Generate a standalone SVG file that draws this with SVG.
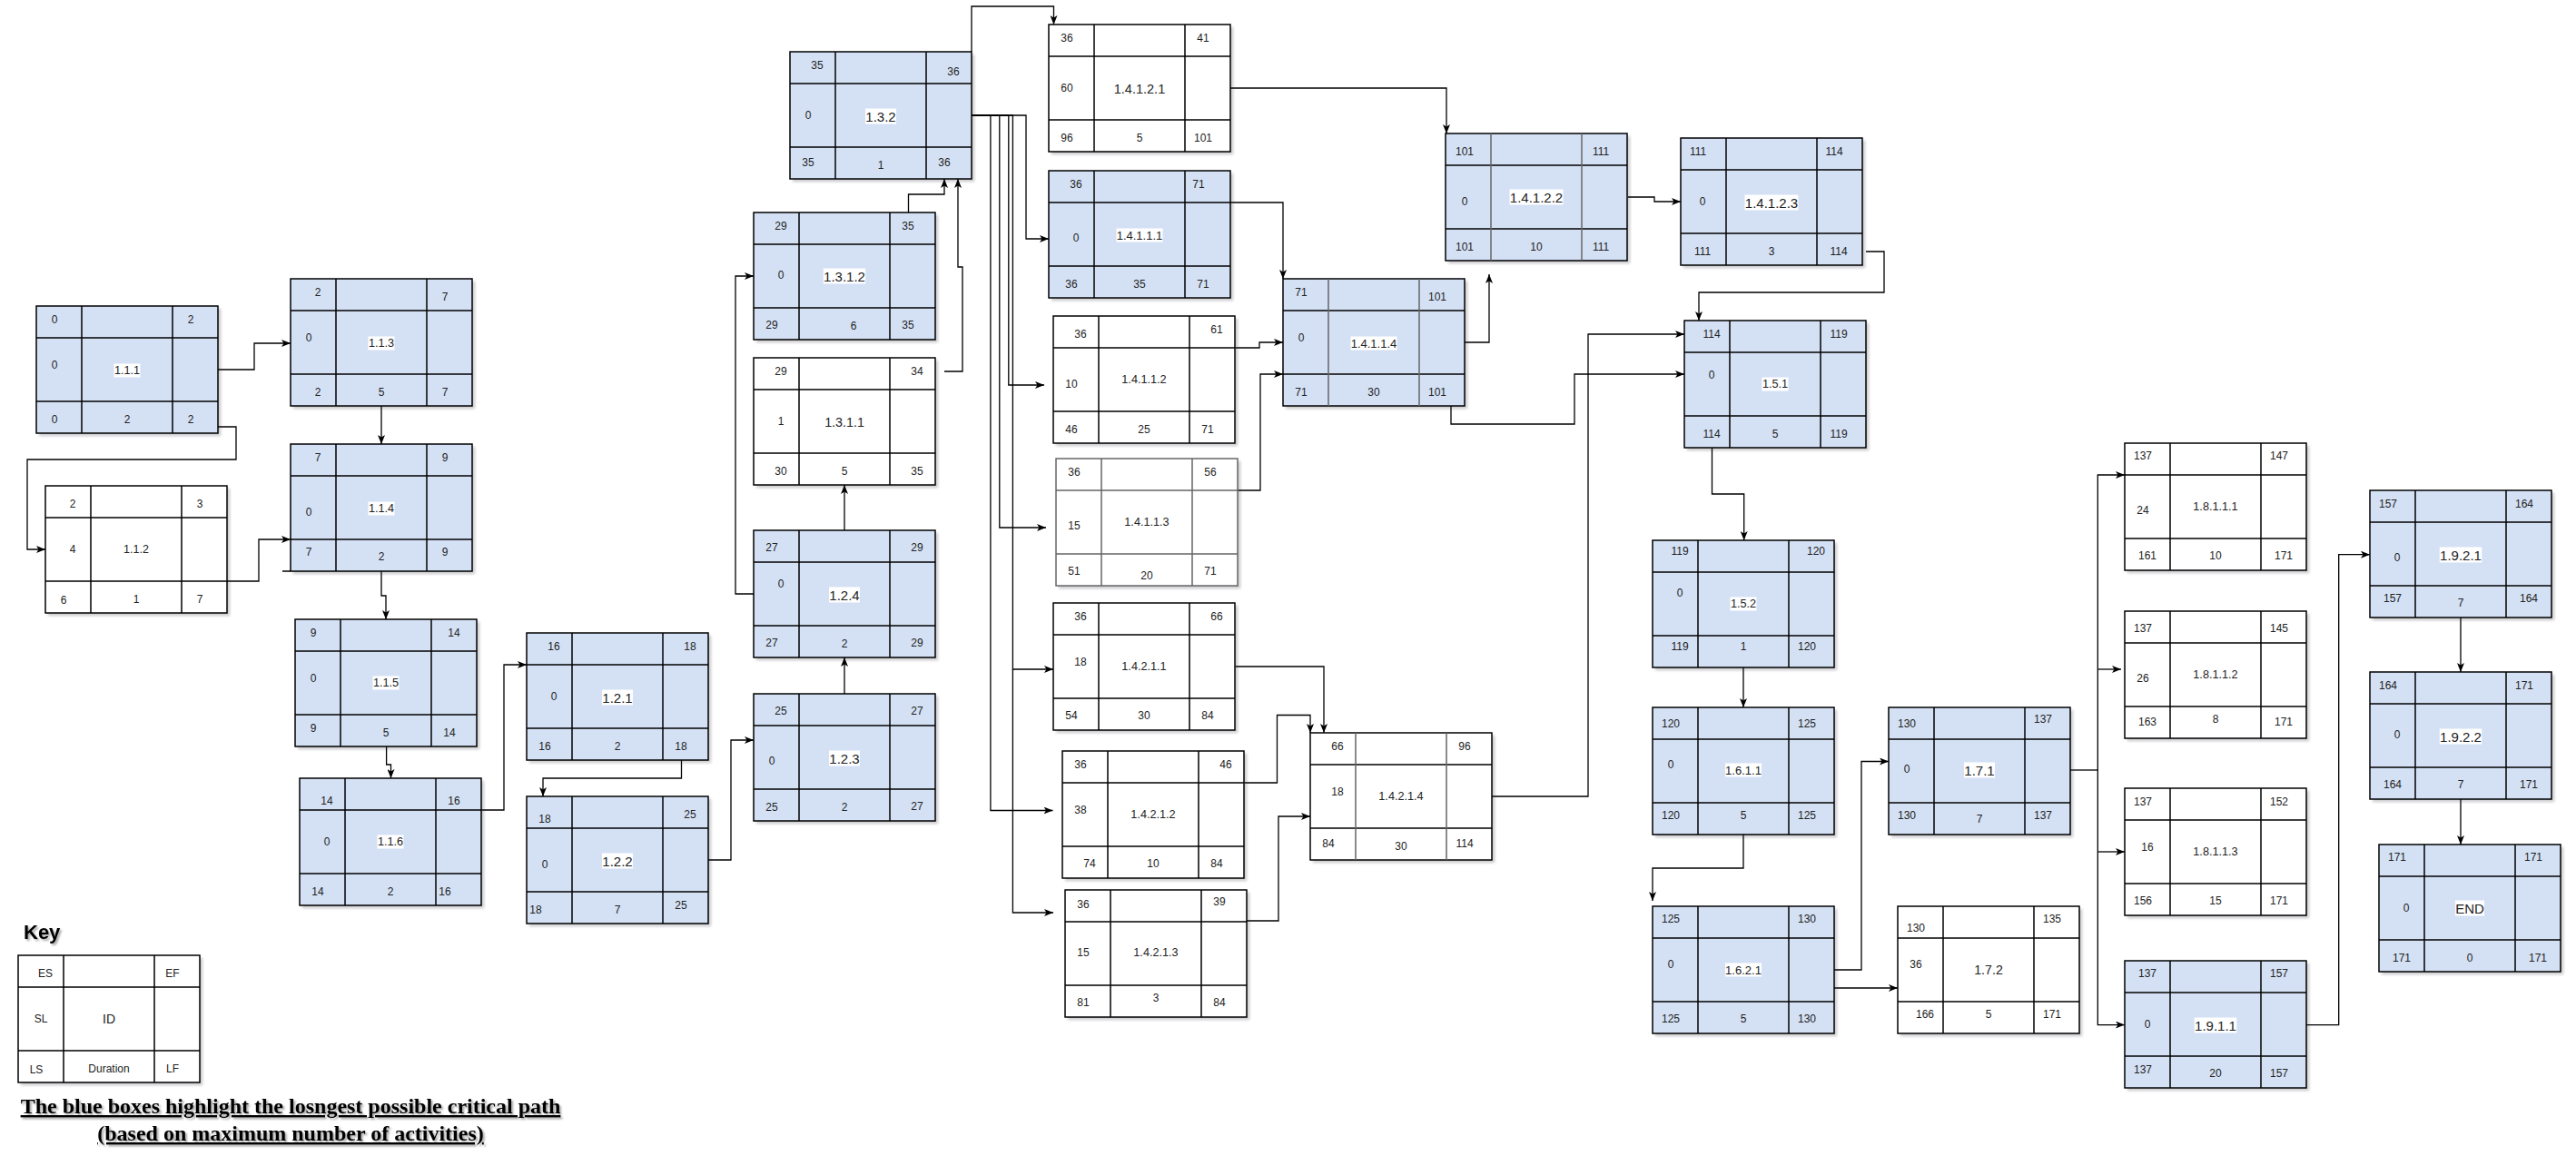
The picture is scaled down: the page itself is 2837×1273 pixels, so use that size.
<svg xmlns="http://www.w3.org/2000/svg" xmlns:xlink="http://www.w3.org/1999/xlink" width="2837" height="1273" viewBox="0 0 2837 1273">
<style>
.n text{font-family:"Liberation Sans",Arial,sans-serif;font-size:12px;fill:#222;text-anchor:middle;dominant-baseline:central}
.n text.i{font-size:15px}
.bf{fill:#D4E1F5;filter:url(#sh)}
.wf{fill:#fff;filter:url(#sh)}
.lb{fill:#fff}
.c path{fill:none;stroke:#000;stroke-width:1.3;marker-end:url(#a)}
.c path.t{marker-end:none}
.cap{font-family:"Liberation Serif","Times New Roman",serif;font-weight:bold;font-size:24px;text-decoration:underline;text-anchor:middle;fill:#000;filter:url(#tsh)}
</style>
<defs>
<filter id="sh" x="-5%" y="-5%" width="115%" height="120%"><feDropShadow dx="3" dy="3" stdDeviation="1.5" flood-color="#223" flood-opacity="0.25"/></filter>
<filter id="tsh" x="-5%" y="-30%" width="110%" height="170%"><feDropShadow dx="2" dy="2" stdDeviation="1.2" flood-color="#000" flood-opacity="0.35"/></filter>
<g id="gr"><rect width="200" height="140" fill="none" stroke="#000" stroke-width="1.5"/><path d="M50,0V140M150,0V140M0,35H200M0,105H200" fill="none" stroke="#000" stroke-width="1.5"/></g>
<g id="grg"><rect width="200" height="140" fill="none" stroke="#666" stroke-width="1.5"/><path d="M50,0V140M150,0V140M0,35H200M0,105H200" fill="none" stroke="#666" stroke-width="1.5"/></g>
<g id="grm"><rect width="200" height="140" fill="none" stroke="#000" stroke-width="1.5"/><path d="M0,35H200M0,105H200" fill="none" stroke="#000" stroke-width="1.5"/><path d="M50,0V140M150,0V140" fill="none" stroke="#666" stroke-width="1.5"/></g>
<marker id="a" viewBox="0 0 10 8" refX="10" refY="4" markerWidth="10" markerHeight="8" markerUnits="userSpaceOnUse" orient="auto"><path d="M0,0L10,4L0,8L2.5,4Z" fill="#000"/></marker>
</defs>
<rect width="2837" height="1273" fill="#fff"/>

<g id="connectors" class="c">
<path d="M240,407H280V378H320"/>
<path d="M240,470H260V506H30V605H50"/>
<path d="M420,447V489"/>
<path d="M250,640H285V594H320"/>
<path d="M420,629V656H425V682"/>
<path d="M425.6,822V842H430.5V857"/>
<path d="M530,892H555V732H580"/>
<path d="M750.5,837V857H598V877"/>
<path d="M780,947H805V815H830"/>
<path d="M930,764V724"/>
<path d="M930,584V534"/>
<path d="M830,654H810V304H830"/>
<path d="M1040,409H1060V294H1055V197"/>
<path d="M1000.5,234V214H1040V197"/>
<path d="M1070,57V7H1160.5V27"/>
<path d="M1070,127H1130V263H1155"/>
<path d="M1070,127H1110.8V424H1150"/>
<path d="M1070,127H1100.8V581H1152"/>
<path d="M1070,127H1115.4V737H1160"/>
<path d="M1115.4,737V1005H1160"/>
<path d="M1070,127H1090.9V892.5H1159.5"/>
<path d="M1355,97H1593V147"/>
<path d="M1355,223H1413V307"/>
<path d="M1360.6,383H1387V377H1413"/>
<path d="M1363,540H1388V412H1413"/>
<path d="M1613,377H1640V302"/>
<path d="M1598,447V467H1734V412H1855"/>
<path d="M1643,877H1749V368H1855"/>
<path d="M2055,277H2075V322H1871V353"/>
<path d="M1793,217H1822V222H1851"/>
<path d="M1360.6,734H1458V807"/>
<path d="M1370.6,862H1406.5V787.5H1443V807"/>
<path d="M1373,1014H1408V899H1443"/>
<path d="M1885.5,493V544H1920.7V595"/>
<path d="M1920,735V779"/>
<path d="M1920,919V956H1820V992"/>
<path d="M2020,1068H2050V838.5H2080"/>
<path d="M2020,1088H2090"/>
<path class="t" d="M2280,848H2310.3"/>
<path d="M2310.3,848V523H2340"/>
<path d="M2310.3,737H2336"/>
<path d="M2310.3,938H2340"/>
<path d="M2310.3,848V1128.6H2340"/>
<path d="M2540,1128.6H2575.7V610.7H2610"/>
<path d="M2710,680V740"/>
<path d="M2710,880V930"/>
</g>

<g id="n111" class="n" transform="translate(40,337)"><rect class="bf" width="200" height="140"/><use href="#gr"/><rect class="lb" x="85.5" y="63.5" width="29" height="15"/>
<text x="20" y="15">0</text><text x="170" y="15">2</text><text x="20" y="65">0</text><text class="i" x="100" y="71" style="font-size:12.7px">1.1.1</text><text x="20" y="125">0</text><text x="100" y="125">2</text><text x="170" y="125">2</text></g>

<g id="n113" class="n" transform="translate(320,307)"><rect class="bf" width="200" height="140"/><use href="#gr"/><rect class="lb" x="85.5" y="63.5" width="29" height="15"/>
<text x="30" y="15">2</text><text x="170" y="20">7</text><text x="20" y="65">0</text><text class="i" x="100" y="71" style="font-size:12.7px">1.1.3</text><text x="30" y="125">2</text><text x="100" y="125">5</text><text x="170" y="125">7</text></g>

<g id="n112" class="n" transform="translate(50,535)"><rect class="wf" width="200" height="140"/><use href="#gr"/>
<text x="30" y="20">2</text><text x="170" y="20">3</text><text x="30" y="70">4</text><text class="i" x="100" y="70" style="font-size:12.5px">1.1.2</text><text x="20" y="126">6</text><text x="100" y="125">1</text><text x="170" y="125">7</text></g>

<g id="n114" class="n" transform="translate(320,489)"><rect class="bf" width="200" height="140"/><use href="#gr"/><path d="M-9,140H0" stroke="#000" stroke-width="1.5"/><rect class="lb" x="85.5" y="63.5" width="29" height="15"/>
<text x="30" y="15">7</text><text x="170" y="15">9</text><text x="20" y="75">0</text><text class="i" x="100" y="71" style="font-size:12.7px">1.1.4</text><text x="20" y="119">7</text><text x="100" y="124">2</text><text x="170" y="119">9</text></g>

<g id="n115" class="n" transform="translate(325,682)"><rect class="bf" width="200" height="140"/><use href="#gr"/><rect class="lb" x="85.5" y="62.5" width="29" height="15"/>
<text x="20" y="15">9</text><text x="175" y="15">14</text><text x="20" y="65">0</text><text class="i" x="100" y="70" style="font-size:12.7px">1.1.5</text><text x="20" y="120">9</text><text x="100" y="125">5</text><text x="170" y="125">14</text></g>

<g id="n116" class="n" transform="translate(330,857)"><rect class="bf" width="200" height="140"/><use href="#gr"/><rect class="lb" x="85.5" y="62.5" width="29" height="15"/>
<text x="30" y="25">14</text><text x="170" y="25">16</text><text x="30" y="70">0</text><text class="i" x="100" y="70" style="font-size:12.7px">1.1.6</text><text x="20" y="125">14</text><text x="100" y="125">2</text><text x="160" y="125">16</text></g>

<g id="n121" class="n" transform="translate(580,697)"><rect class="bf" width="200" height="140"/><use href="#gr"/><rect class="lb" x="83" y="62.5" width="34" height="17"/>
<text x="30" y="15">16</text><text x="180" y="15">18</text><text x="30" y="70">0</text><text class="i" x="100" y="71">1.2.1</text><text x="20" y="125">16</text><text x="100" y="125">2</text><text x="170" y="125">18</text></g>

<g id="n122" class="n" transform="translate(580,877)"><rect class="bf" width="200" height="140"/><use href="#gr"/><rect class="lb" x="83" y="62.5" width="34" height="17"/>
<text x="20" y="25">18</text><text x="180" y="20">25</text><text x="20" y="75">0</text><text class="i" x="100" y="71">1.2.2</text><text x="10" y="125">18</text><text x="100" y="125">7</text><text x="170" y="120">25</text></g>

<g id="n123" class="n" transform="translate(830,764)"><rect class="bf" width="200" height="140"/><use href="#gr"/><rect class="lb" x="83" y="62.5" width="34" height="17"/>
<text x="30" y="19">25</text><text x="180" y="19">27</text><text x="20" y="74">0</text><text class="i" x="100" y="71">1.2.3</text><text x="20" y="125">25</text><text x="100" y="125">2</text><text x="180" y="124">27</text></g>

<g id="n124" class="n" transform="translate(830,584)"><rect class="bf" width="200" height="140"/><use href="#gr"/><rect class="lb" x="83" y="62.5" width="34" height="17"/>
<text x="20" y="19">27</text><text x="180" y="19">29</text><text x="30" y="59">0</text><text class="i" x="100" y="71">1.2.4</text><text x="20" y="124">27</text><text x="100" y="125">2</text><text x="180" y="124">29</text></g>

<g id="n1311" class="n" transform="translate(830,394)"><rect class="wf" width="200" height="140"/><use href="#gr"/>
<text x="30" y="15">29</text><text x="180" y="15">34</text><text x="30" y="70">1</text><text class="i" x="100" y="71" style="font-size:14.3px">1.3.1.1</text><text x="30" y="125">30</text><text x="100" y="125">5</text><text x="180" y="125">35</text></g>

<g id="n1312" class="n" transform="translate(830,234)"><rect class="bf" width="200" height="140"/><use href="#gr"/><rect class="lb" x="76.75" y="61.5" width="46.5" height="17"/>
<text x="30" y="15">29</text><text x="170" y="15">35</text><text x="30" y="69">0</text><text class="i" x="100" y="70">1.3.1.2</text><text x="20" y="124">29</text><text x="110" y="125">6</text><text x="170" y="124">35</text></g>

<g id="n132" class="n" transform="translate(870,57)"><rect class="bf" width="200" height="140"/><use href="#gr"/><rect class="lb" x="83" y="62.5" width="34" height="17"/>
<text x="30" y="15">35</text><text x="180" y="22">36</text><text x="20" y="70">0</text><text class="i" x="100" y="71">1.3.2</text><text x="20" y="122">35</text><text x="100" y="125">1</text><text x="170" y="122">36</text></g>

<g id="n14121" class="n" transform="translate(1155,27)"><rect class="wf" width="200" height="140"/><use href="#gr"/>
<text x="20" y="15">36</text><text x="170" y="15">41</text><text x="20" y="70">60</text><text class="i" x="100" y="71" style="font-size:14.5px">1.4.1.2.1</text><text x="20" y="125">96</text><text x="100" y="125">5</text><text x="170" y="125">101</text></g>

<g id="n14111" class="n" transform="translate(1155,188)"><rect class="bf" width="200" height="140"/><use href="#gr"/><rect class="lb" x="74.5" y="63.5" width="51" height="15"/>
<text x="30" y="15">36</text><text x="165" y="15">71</text><text x="30" y="74">0</text><text class="i" x="100" y="71" style="font-size:13px">1.4.1.1.1</text><text x="25" y="125">36</text><text x="100" y="125">35</text><text x="170" y="125">71</text></g>

<g id="n14112" class="n" transform="translate(1160,348)"><rect class="wf" width="200" height="140"/><use href="#gr"/>
<text x="30" y="20">36</text><text x="180" y="15">61</text><text x="20" y="75">10</text><text class="i" x="100" y="70" style="font-size:12.7px">1.4.1.1.2</text><text x="20" y="125">46</text><text x="100" y="125">25</text><text x="170" y="125">71</text></g>

<g id="n14113" class="n" transform="translate(1163,505)"><rect class="wf" width="200" height="140"/><use href="#grg"/>
<text x="20" y="15">36</text><text x="170" y="15">56</text><text x="20" y="74">15</text><text class="i" x="100" y="70" style="font-size:12.7px">1.4.1.1.3</text><text x="20" y="124">51</text><text x="100" y="129">20</text><text x="170" y="124">71</text></g>

<g id="n14211" class="n" transform="translate(1160,664)"><rect class="wf" width="200" height="140"/><use href="#gr"/>
<text x="30" y="15">36</text><text x="180" y="15">66</text><text x="30" y="65">18</text><text class="i" x="100" y="70" style="font-size:12.7px">1.4.2.1.1</text><text x="20" y="124">54</text><text x="100" y="124">30</text><text x="170" y="124">84</text></g>

<g id="n14212" class="n" transform="translate(1170,827)"><rect class="wf" width="200" height="140"/><use href="#gr"/>
<text x="20" y="15">36</text><text x="180" y="15">46</text><text x="20" y="65">38</text><text class="i" x="100" y="70" style="font-size:12.7px">1.4.2.1.2</text><text x="30" y="124">74</text><text x="100" y="124">10</text><text x="170" y="124">84</text></g>

<g id="n14213" class="n" transform="translate(1173,980)"><rect class="wf" width="200" height="140"/><use href="#gr"/>
<text x="20" y="16">36</text><text x="170" y="13">39</text><text x="20" y="69">15</text><text class="i" x="100" y="69" style="font-size:12.7px">1.4.2.1.3</text><text x="20" y="124">81</text><text x="100" y="119">3</text><text x="170" y="124">84</text></g>

<g id="n14214" class="n" transform="translate(1443,807)"><rect class="wf" width="200" height="140"/><use href="#grm"/>
<text x="30" y="15">66</text><text x="170" y="15">96</text><text x="30" y="65">18</text><text class="i" x="100" y="70" style="font-size:12.7px">1.4.2.1.4</text><text x="20" y="122">84</text><text x="100" y="125">30</text><text x="170" y="122">114</text></g>

<g id="n14114" class="n" transform="translate(1413,307)"><rect class="bf" width="200" height="140"/><use href="#grm"/><rect class="lb" x="74.5" y="63.5" width="51" height="15"/>
<text x="20" y="15">71</text><text x="170" y="20">101</text><text x="20" y="65">0</text><text class="i" x="100" y="71" style="font-size:13px">1.4.1.1.4</text><text x="20" y="125">71</text><text x="100" y="125">30</text><text x="170" y="125">101</text></g>

<g id="n14122" class="n" transform="translate(1592,147)"><rect class="bf" width="200" height="140"/><use href="#grm"/><rect class="lb" x="70.5" y="61.5" width="59" height="17"/>
<text x="21" y="20">101</text><text x="171" y="20">111</text><text x="21" y="75">0</text><text class="i" x="100" y="70">1.4.1.2.2</text><text x="21" y="125">101</text><text x="100" y="125">10</text><text x="171" y="125">111</text></g>

<g id="n14123" class="n" transform="translate(1851,152)"><rect class="bf" width="200" height="140"/><use href="#gr"/><rect class="lb" x="70.5" y="62.5" width="59" height="17"/>
<text x="19" y="15">111</text><text x="169" y="15">114</text><text x="24" y="70">0</text><text class="i" x="100" y="71">1.4.1.2.3</text><text x="24" y="125">111</text><text x="100" y="125">3</text><text x="174" y="125">114</text></g>

<g id="n151" class="n" transform="translate(1855,353)"><rect class="bf" width="200" height="140"/><use href="#gr"/><rect class="lb" x="85.5" y="62.5" width="29" height="15"/>
<text x="30" y="15">114</text><text x="170" y="15">119</text><text x="30" y="60">0</text><text class="i" x="100" y="70" style="font-size:12.7px">1.5.1</text><text x="30" y="125">114</text><text x="100" y="125">5</text><text x="170" y="125">119</text></g>

<g id="n152" class="n" transform="translate(1820,595)"><rect class="bf" width="200" height="140"/><use href="#gr"/><rect class="lb" x="85.5" y="62.5" width="29" height="15"/>
<text x="30" y="12">119</text><text x="180" y="12">120</text><text x="30" y="58">0</text><text class="i" x="100" y="70" style="font-size:12.7px">1.5.2</text><text x="30" y="117">119</text><text x="100" y="117">1</text><text x="170" y="117">120</text></g>

<g id="n1611" class="n" transform="translate(1820,779)"><rect class="bf" width="200" height="140"/><use href="#gr"/><rect class="lb" x="80" y="61.5" width="40" height="15"/>
<text x="20" y="18">120</text><text x="170" y="18">125</text><text x="20" y="63">0</text><text class="i" x="100" y="69" style="font-size:13px">1.6.1.1</text><text x="20" y="119">120</text><text x="100" y="119">5</text><text x="170" y="119">125</text></g>

<g id="n1621" class="n" transform="translate(1820,998)"><rect class="bf" width="200" height="140"/><use href="#gr"/><rect class="lb" x="80" y="62.5" width="40" height="15"/>
<text x="20" y="14">125</text><text x="170" y="14">130</text><text x="20" y="64">0</text><text class="i" x="100" y="70" style="font-size:13px">1.6.2.1</text><text x="20" y="124">125</text><text x="100" y="124">5</text><text x="170" y="124">130</text></g>

<g id="n171" class="n" transform="translate(2080,779)"><rect class="bf" width="200" height="140"/><use href="#gr"/><rect class="lb" x="83" y="60.5" width="34" height="17"/>
<text x="20" y="18">130</text><text x="170" y="13">137</text><text x="20" y="68">0</text><text class="i" x="100" y="69">1.7.1</text><text x="20" y="119">130</text><text x="100" y="123">7</text><text x="170" y="119">137</text></g>

<g id="n172" class="n" transform="translate(2090,998)"><rect class="wf" width="200" height="140"/><use href="#gr"/>
<text x="20" y="24">130</text><text x="170" y="14">135</text><text x="20" y="64">36</text><text class="i" x="100" y="70" style="font-size:14.2px">1.7.2</text><text x="30" y="119">166</text><text x="100" y="119">5</text><text x="170" y="119">171</text></g>

<g id="n18111" class="n" transform="translate(2340,488)"><rect class="wf" width="200" height="140"/><use href="#gr"/>
<text x="20" y="14">137</text><text x="170" y="14">147</text><text x="20" y="74">24</text><text class="i" x="100" y="70" style="font-size:12.7px">1.8.1.1.1</text><text x="25" y="124">161</text><text x="100" y="124">10</text><text x="175" y="124">171</text></g>

<g id="n18112" class="n" transform="translate(2340,673)"><rect class="wf" width="200" height="140"/><use href="#gr"/>
<text x="20" y="19">137</text><text x="170" y="19">145</text><text x="20" y="74">26</text><text class="i" x="100" y="70" style="font-size:12.7px">1.8.1.1.2</text><text x="25" y="122">163</text><text x="100" y="119">8</text><text x="175" y="122">171</text></g>

<g id="n18113" class="n" transform="translate(2340,868)"><rect class="wf" width="200" height="140"/><use href="#gr"/>
<text x="20" y="15">137</text><text x="170" y="15">152</text><text x="25" y="65">16</text><text class="i" x="100" y="70" style="font-size:12.7px">1.8.1.1.3</text><text x="20" y="124">156</text><text x="100" y="124">15</text><text x="170" y="124">171</text></g>

<g id="n1911" class="n" transform="translate(2340,1058)"><rect class="bf" width="200" height="140"/><use href="#gr"/><rect class="lb" x="76.75" y="62.5" width="46.5" height="17"/>
<text x="25" y="14">137</text><text x="170" y="14">157</text><text x="25" y="70">0</text><text class="i" x="100" y="71">1.9.1.1</text><text x="20" y="120">137</text><text x="100" y="124">20</text><text x="170" y="124">157</text></g>

<g id="n1921" class="n" transform="translate(2610,540)"><rect class="bf" width="200" height="140"/><use href="#gr"/><rect class="lb" x="76.75" y="62.5" width="46.5" height="17"/>
<text x="20" y="15">157</text><text x="170" y="15">164</text><text x="30" y="74">0</text><text class="i" x="100" y="71">1.9.2.1</text><text x="25" y="119">157</text><text x="100" y="124">7</text><text x="175" y="119">164</text></g>

<g id="n1922" class="n" transform="translate(2610,740)"><rect class="bf" width="200" height="140"/><use href="#gr"/><rect class="lb" x="76.75" y="62.5" width="46.5" height="17"/>
<text x="20" y="15">164</text><text x="170" y="15">171</text><text x="30" y="69">0</text><text class="i" x="100" y="71">1.9.2.2</text><text x="25" y="124">164</text><text x="100" y="124">7</text><text x="175" y="124">171</text></g>

<g id="nEND" class="n" transform="translate(2620,930)"><rect class="bf" width="200" height="140"/><use href="#gr"/><rect class="lb" x="84" y="61.5" width="32" height="17"/>
<text x="20" y="14">171</text><text x="170" y="14">171</text><text x="30" y="70">0</text><text class="i" x="100" y="70">END</text><text x="25" y="125">171</text><text x="100" y="125">0</text><text x="175" y="125">171</text></g>

<g id="key" class="n" transform="translate(20,1052)"><rect class="wf" width="200" height="140"/><use href="#gr"/>
<text x="30" y="20">ES</text><text x="170" y="20">EF</text><text x="25" y="70">SL</text><text x="100" y="70" style="font-size:14px">ID</text><text x="20" y="126">LS</text><text x="100" y="125">Duration</text><text x="170" y="125">LF</text></g>

<g id="legend">
<text x="26" y="1034" font-family="Liberation Sans, Arial, sans-serif" font-weight="bold" font-size="22" fill="#000" filter="url(#tsh)">Key</text>
<text class="cap" x="320" y="1226">The blue boxes highlight the losngest possible critical path</text>
<text class="cap" x="320" y="1256">(based on maximum number of activities)</text>
</g>
</svg>
